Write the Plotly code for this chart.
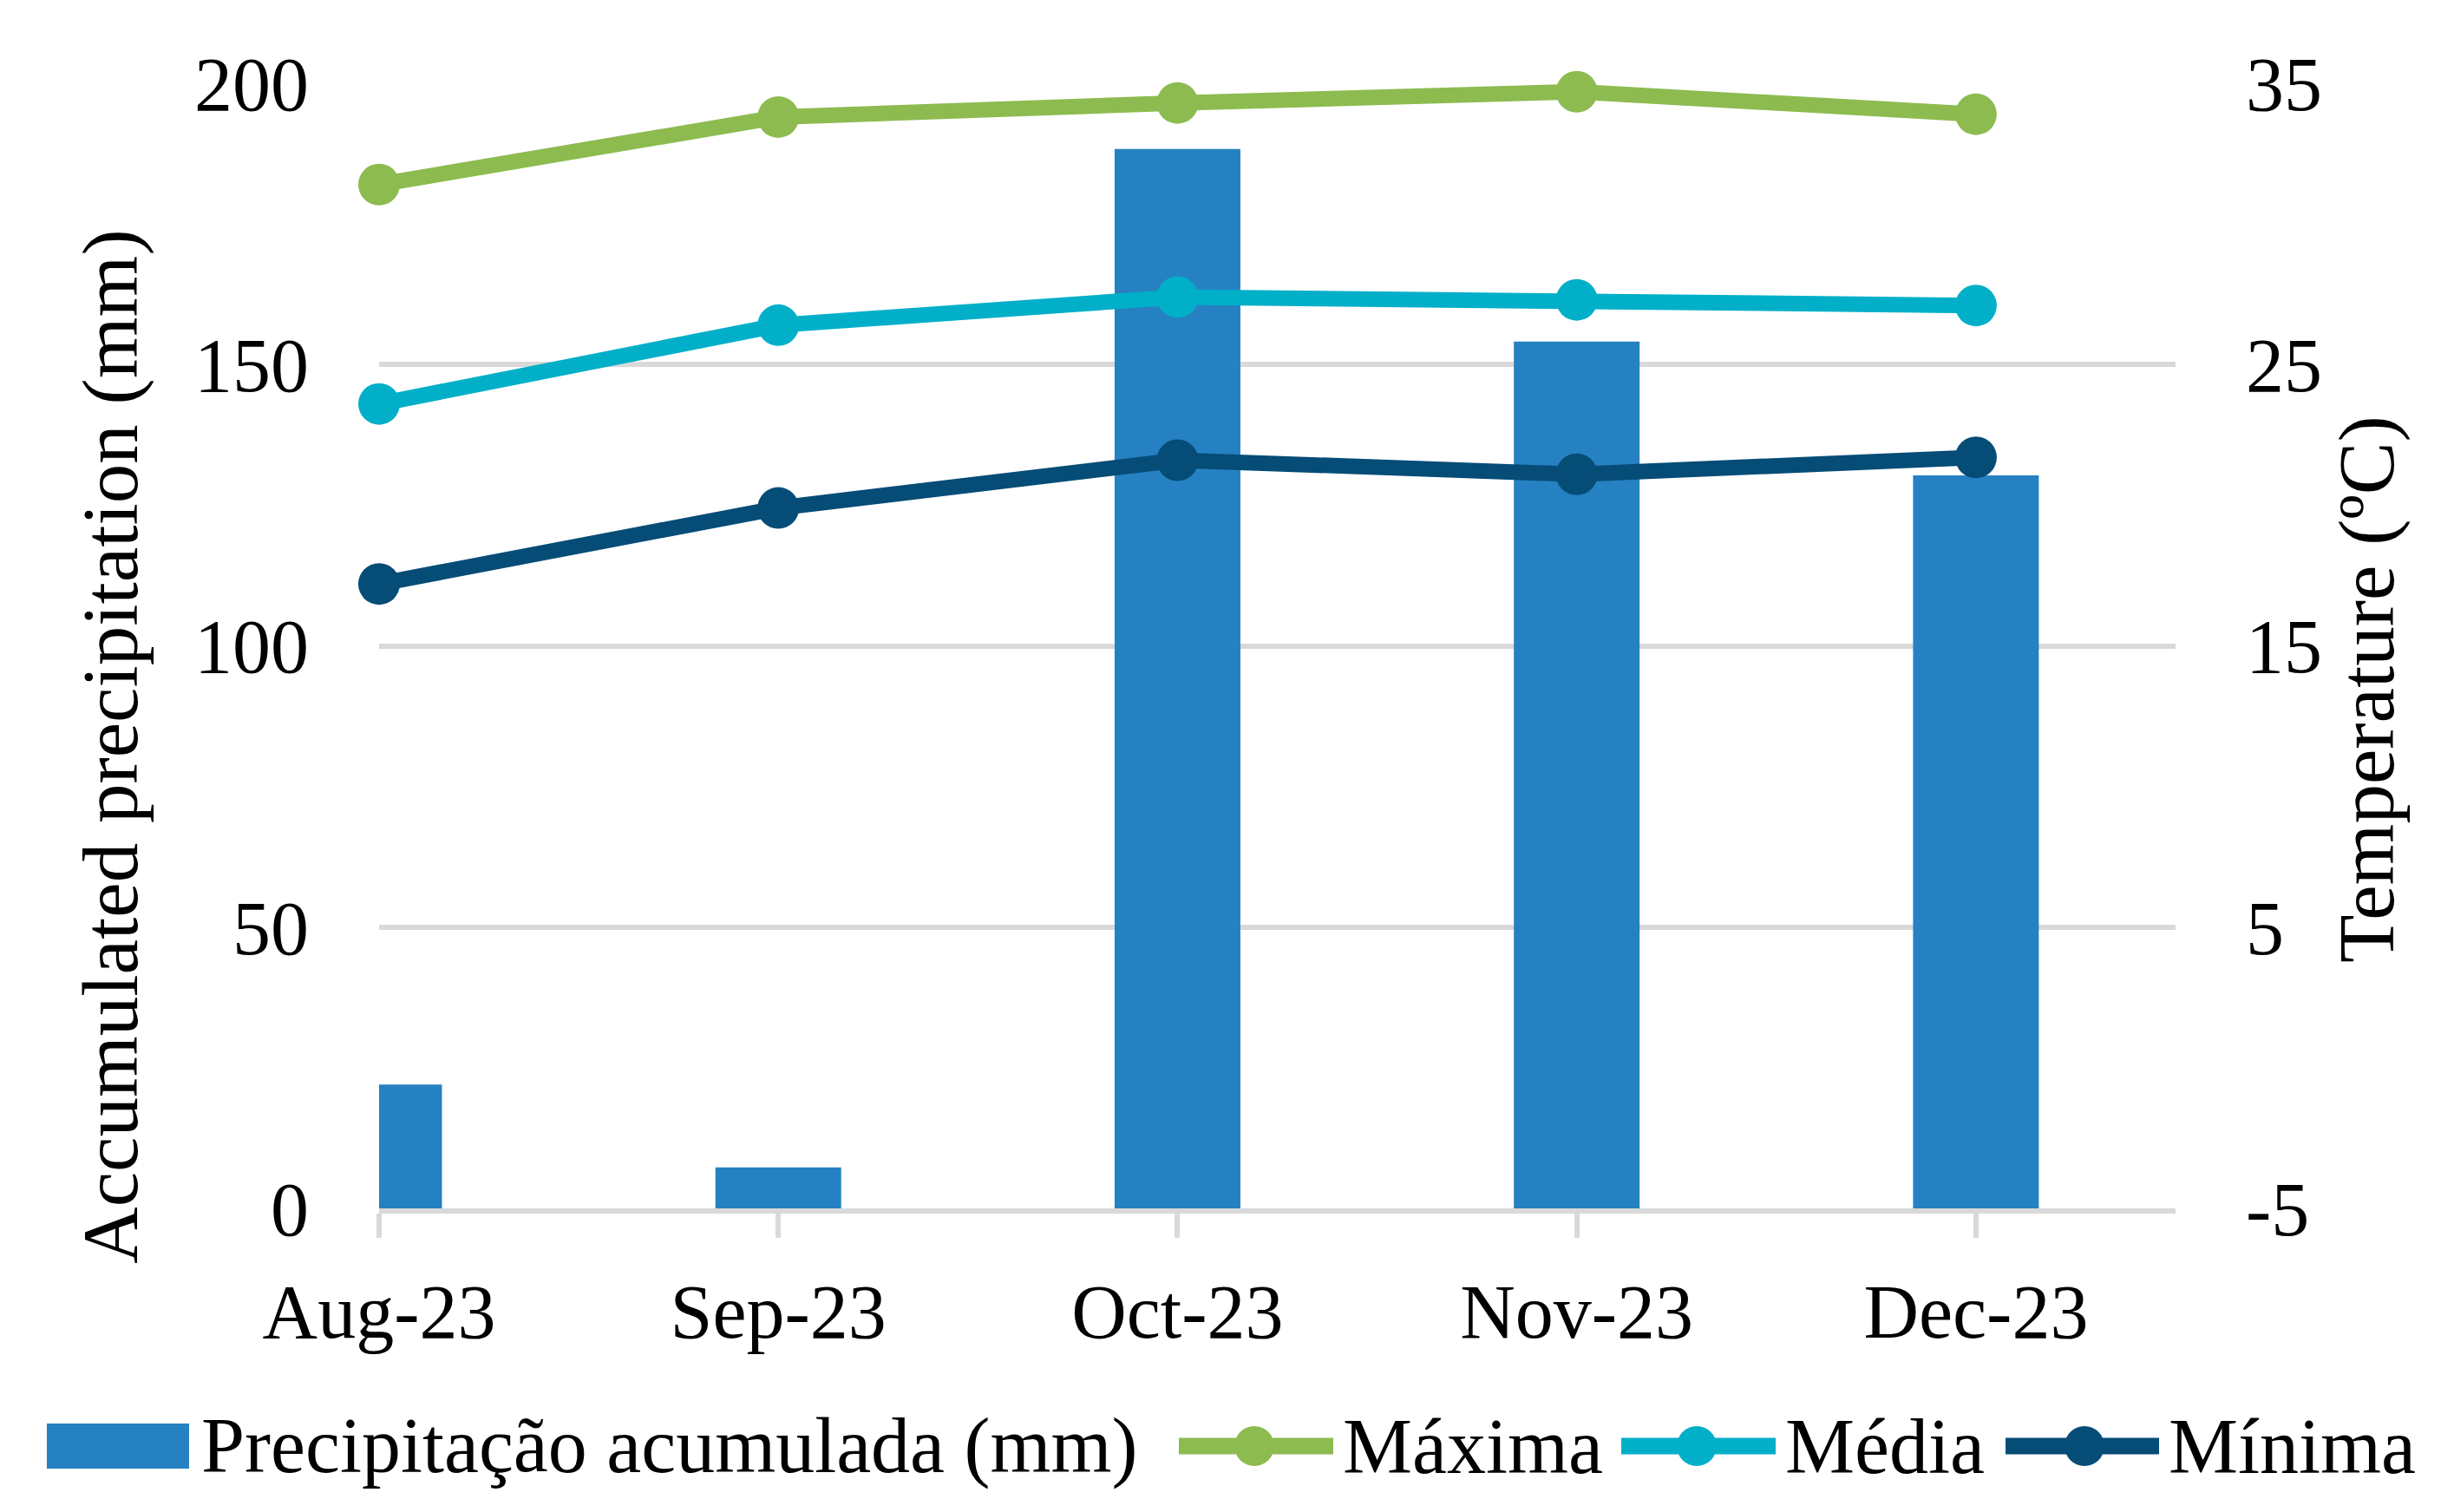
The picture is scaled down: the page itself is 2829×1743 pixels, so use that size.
import plotly.graph_objects as go

months = ["Aug-23", "Sep-23", "Oct-23", "Nov-23", "Dec-23"]
precip = [22, 7.3, 188.3, 154.1, 130.3]
t_max = [31.4, 33.8, 34.3, 34.7, 33.9]
t_med = [23.6, 26.4, 27.4, 27.3, 27.1]
t_min = [17.2, 19.9, 21.6, 21.1, 21.7]
left_ticks = [0, 50, 100, 150, 200]
right_ticks = [-5, 5, 15, 25, 35]
right_tick_labels = ["-5", "5", "15", "25", "35"]

W, H = 2829, 1743
ML, MR, MT, MB = 437, 321, 96, 350
PW, PH = W - ML - MR, H - MT - MB

def px(x):
    return (x - ML) / PW

def py(y):
    return (H - MB - y) / PH

FONT = "Liberation Serif"
C_BAR = "#2581C1"
C_MAX = "#8DBB50"
C_MED = "#02AFC8"
C_MIN = "#054C77"
GRID = "#D9D9D9"

xs = list(range(len(months)))

fig = go.Figure()
fig.add_trace(go.Bar(x=xs, y=precip, width=0.315, marker=dict(color=C_BAR, line=dict(width=0)),
                     name="Precipitação acumulada (mm)", showlegend=False))
for vals, col, nm in [(t_max, C_MAX, "Máxima"), (t_med, C_MED, "Média"), (t_min, C_MIN, "Mínima")]:
    fig.add_trace(go.Scatter(x=xs, y=vals, yaxis="y2", mode="lines+markers", name=nm,
                             line=dict(color=col, width=18), marker=dict(color=col, size=48),
                             cliponaxis=False, showlegend=False))

fig.update_layout(
    width=W, height=H,
    margin=dict(l=ML, r=MR, t=MT, b=MB),
    paper_bgcolor="white", plot_bgcolor="white",
    font=dict(family=FONT, size=88, color="black"),
    showlegend=False,
    xaxis=dict(range=[0, 4.5], tickmode="array", tickvals=xs, ticktext=months,
               showgrid=False, zeroline=False, showline=True, linecolor=GRID, linewidth=6,
               ticks="outside", ticklen=28, tickwidth=6, tickcolor=GRID, ticklabelstandoff=9),
    yaxis=dict(range=[0, 200], tickmode="array", tickvals=left_ticks, showgrid=True,
               gridcolor=GRID, gridwidth=6, zeroline=False, ticks="", ticklabelstandoff=80),
    yaxis2=dict(range=[-5, 35], tickmode="array", tickvals=right_ticks, ticktext=right_tick_labels,
                overlaying="y", side="right", showgrid=False, zeroline=False, ticks="",
                ticklabelstandoff=80),
)

annotations = [
    dict(text="Accumulated precipitation (mm)", x=px(127), y=py(861), textangle=-90,
         font=dict(size=91)),
    dict(text="Temperature (ºC)", x=px(2729), y=py(795), textangle=-90, font=dict(size=91)),
]

shapes = []
ly = 1667
# bar legend swatch
shapes.append(dict(type="rect", xref="paper", yref="paper", x0=px(54), x1=px(218),
                   y0=py(1693), y1=py(1641), fillcolor=C_BAR, line=dict(width=0)))
annotations.append(dict(text="Precipitação acumulada (mm)", x=px(230), y=py(ly), xanchor="left",
                        font=dict(size=90)))
legend_lines = [(C_MAX, 1359, 1537, 1446, 1546, "Máxima"),
                (C_MED, 1869, 2047, 1956, 2056, "Média"),
                (C_MIN, 2312, 2489, 2403, 2498, "Mínima")]
r = 23
for col, x0, x1, xm, xt, nm in legend_lines:
    shapes.append(dict(type="line", xref="paper", yref="paper", x0=px(x0), x1=px(x1),
                       y0=py(ly), y1=py(ly), line=dict(color=col, width=19)))
    shapes.append(dict(type="circle", xref="paper", yref="paper", x0=px(xm - r), x1=px(xm + r),
                       y0=py(ly + r), y1=py(ly - r), fillcolor=col, line=dict(width=0)))
    annotations.append(dict(text=nm, x=px(xt), y=py(ly), xanchor="left", font=dict(size=90)))

for a in annotations:
    a.update(xref="paper", yref="paper", showarrow=False)
    a.setdefault("xanchor", "center")
    a.setdefault("yanchor", "middle")

fig.update_layout(annotations=annotations, shapes=shapes)

fig.write_html("out.html", config={"displayModeBar": False},
               post_script="document.body.style.margin='0';document.body.style.overflow='hidden';")
